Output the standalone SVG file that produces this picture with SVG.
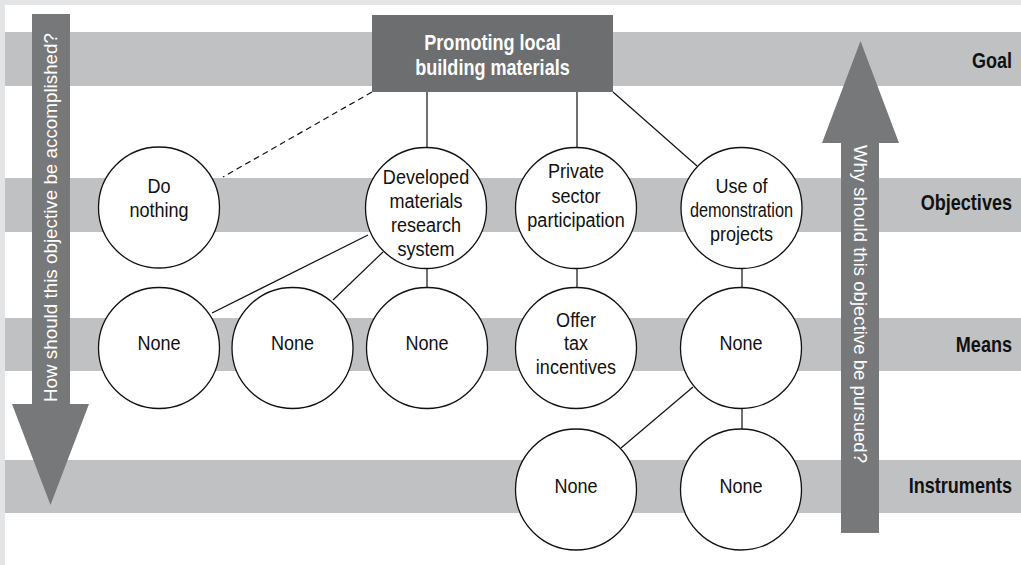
<svg xmlns="http://www.w3.org/2000/svg" width="1021" height="565" viewBox="0 0 1021 565">
  <style>
    .band { fill: #c0c1c3; }
    .arrow { fill: #77787a; }
    .node circle { fill: #ffffff; stroke: #111111; stroke-width: 1.3; }
    text { font-family: "Liberation Sans", Arial, sans-serif; }
    .node text { font-size: 21px; text-anchor: middle; fill: #111111; }
    .level { font-size: 21.5px; font-weight: bold; text-anchor: end; fill: #111111; }
    .goal-text { font-size: 21.5px; font-weight: bold; fill: #ffffff; text-anchor: middle; }
    .axis-text { font-size: 19px; fill: #ffffff; text-anchor: middle; }
    .link { stroke: #111111; stroke-width: 1.2; fill: none; }
    .dashed { stroke-dasharray: 6 4; }
  </style>

  <!-- frame -->
  <rect x="0" y="0" width="1021" height="565" fill="#e3e4e6"/>
  <rect x="5" y="5" width="1016" height="560" fill="#ffffff"/>

  <!-- level bands -->
  <g id="bands">
    <rect class="band" x="5" y="32" width="1016" height="54"/>
    <rect class="band" x="5" y="178" width="1016" height="54"/>
    <rect class="band" x="5" y="318" width="1016" height="53"/>
    <rect class="band" x="5" y="460" width="1016" height="53"/>
  </g>

  <!-- level labels (condensed by horizontal scaling) -->
  <g id="levels">
    <text class="level" transform="translate(1012,68) scale(0.84,1)">Goal</text>
    <text class="level" transform="translate(1012,210) scale(0.84,1)">Objectives</text>
    <text class="level" transform="translate(1012,352) scale(0.84,1)">Means</text>
    <text class="level" transform="translate(1012,493) scale(0.84,1)">Instruments</text>
  </g>

  <!-- downward "how" arrow -->
  <g id="arrow-how">
    <path class="arrow" d="M32,14 H70 V404 H89 L50.5,505 L12,404 H32 Z"/>
    <text class="axis-text" transform="translate(56.5,217.5) rotate(-90)" textLength="369" lengthAdjust="spacingAndGlyphs">How should this objective be accomplished?</text>
  </g>

  <!-- upward "why" arrow -->
  <g id="arrow-why">
    <path class="arrow" d="M841,533 V143 H822 L860.5,41 L899,143 H879 V533 Z"/>
    <text class="axis-text" transform="translate(853.5,304) rotate(90)" textLength="318" lengthAdjust="spacingAndGlyphs">Why should this objective be pursued?</text>
  </g>

  <!-- connectors -->
  <g id="connectors">
    <line class="link dashed" x1="372" y1="92" x2="223" y2="177"/>
    <line class="link" x1="427" y1="92" x2="427" y2="147.5"/>
    <line class="link" x1="577" y1="92" x2="577" y2="147.5"/>
    <line class="link" x1="613" y1="92" x2="697" y2="166"/>
    <line class="link" x1="368" y1="235" x2="212" y2="313"/>
    <line class="link" x1="383" y1="252" x2="333" y2="300"/>
    <line class="link" x1="427" y1="268.5" x2="427" y2="287.5"/>
    <line class="link" x1="577" y1="268.5" x2="577" y2="287.5"/>
    <line class="link" x1="742" y1="268.5" x2="742" y2="287.5"/>
    <line class="link" x1="693" y1="387" x2="621" y2="448"/>
    <line class="link" x1="742" y1="408.5" x2="742" y2="429"/>
  </g>

  <!-- goal -->
  <g id="goal">
    <rect x="372" y="15" width="241" height="77" fill="#6d6e70"/>
    <text class="goal-text" transform="translate(492.5,50) scale(0.84,1)">Promoting local</text>
    <text class="goal-text" transform="translate(492.5,75) scale(0.84,1)">building materials</text>
  </g>

  <!-- objectives -->
  <g id="obj-nothing" class="node">
    <circle cx="159" cy="207.5" r="60.5"/>
    <text transform="translate(159,193) scale(0.86,1)">Do</text>
    <text transform="translate(159,217) scale(0.86,1)">nothing</text>
  </g>
  <g id="obj-research" class="node">
    <circle cx="426" cy="208" r="60.5"/>
    <text transform="translate(426,184) scale(0.86,1)">Developed</text>
    <text transform="translate(426,208) scale(0.86,1)">materials</text>
    <text transform="translate(426,232) scale(0.86,1)">research</text>
    <text transform="translate(426,256) scale(0.86,1)">system</text>
  </g>
  <g id="obj-private" class="node">
    <circle cx="576" cy="208" r="60.5"/>
    <text transform="translate(576,178) scale(0.86,1)">Private</text>
    <text transform="translate(576,203) scale(0.86,1)">sector</text>
    <text transform="translate(576,227) scale(0.86,1)">participation</text>
  </g>
  <g id="obj-demo" class="node">
    <circle cx="741.5" cy="208" r="60.5"/>
    <text transform="translate(741.5,193) scale(0.86,1)">Use of</text>
    <text transform="translate(741.5,217) scale(0.86,1)" textLength="120" lengthAdjust="spacingAndGlyphs">demonstration</text>
    <text transform="translate(741.5,241) scale(0.86,1)">projects</text>
  </g>

  <!-- means -->
  <g id="means-1" class="node">
    <circle cx="159" cy="348" r="60.5"/>
    <text transform="translate(159,350) scale(0.86,1)">None</text>
  </g>
  <g id="means-2" class="node">
    <circle cx="292.5" cy="348" r="60.5"/>
    <text transform="translate(292.5,350) scale(0.86,1)">None</text>
  </g>
  <g id="means-3" class="node">
    <circle cx="427" cy="348" r="60.5"/>
    <text transform="translate(427,350) scale(0.86,1)">None</text>
  </g>
  <g id="means-tax" class="node">
    <circle cx="576" cy="348" r="60.5"/>
    <text transform="translate(576,327) scale(0.86,1)">Offer</text>
    <text transform="translate(576,350) scale(0.86,1)">tax</text>
    <text transform="translate(576,374) scale(0.86,1)">incentives</text>
  </g>
  <g id="means-5" class="node">
    <circle cx="741" cy="348" r="60.5"/>
    <text transform="translate(741,350) scale(0.86,1)">None</text>
  </g>

  <!-- instruments -->
  <g id="instr-1" class="node">
    <circle cx="576" cy="489.5" r="60.5"/>
    <text transform="translate(576,493) scale(0.86,1)">None</text>
  </g>
  <g id="instr-2" class="node">
    <circle cx="741" cy="489.5" r="60.5"/>
    <text transform="translate(741,493) scale(0.86,1)">None</text>
  </g>
</svg>
